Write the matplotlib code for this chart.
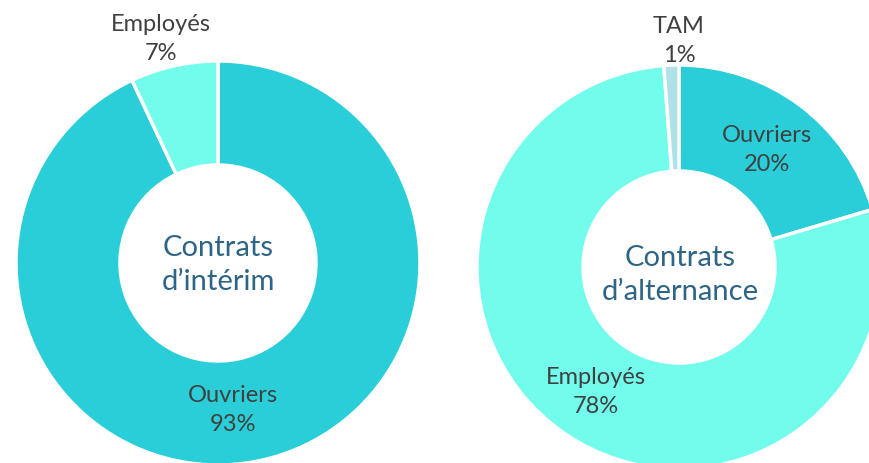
import matplotlib.pyplot as plt

# data
left_labels = ['Ouvriers', 'Employés']
left_values = [93, 7]
left_colors = ['#29CED8', '#71FCEC']

right_labels = ['Ouvriers', 'Employés', 'TAM']
right_values = [20.4, 78.4, 1.2]
right_pct = ['20%', '78%', '1%']
right_colors = ['#29CED8', '#71FCEC', '#B0E0E8']

plt.rcParams['font.family'] = ['Lato', 'DejaVu Sans']
lab_color = '#404040'
mid_color = '#2E6485'

fig = plt.figure(figsize=(8.69, 4.64), dpi=100)
ax = fig.add_axes([0, 0, 1, 1])
H = 464

# left donut
ax.pie(left_values, colors=left_colors, startangle=90, counterclock=False,
       center=(218, H - 264), radius=202,
       wedgeprops=dict(width=104, edgecolor='white', linewidth=2.5))
# right donut
ax.pie(right_values, colors=right_colors, startangle=90, counterclock=False,
       center=(679, H - 268), radius=202,
       wedgeprops=dict(width=106, edgecolor='white', linewidth=2.5))

ax.set_xlim(0, 869)
ax.set_ylim(0, H)
ax.set_aspect('equal')
ax.axis('off')

fs = 17
ls = 1.45


def label(x, y, name, pct):
    ax.text(x, H - y, name + '\n' + pct, ha='center', va='center',
            fontsize=fs, color=lab_color, linespacing=ls)


label(161, 39, left_labels[1], '7%')
label(233, 410, left_labels[0], '93%')
ax.text(218, H - 265, 'Contrats\nd\u2019intérim', ha='center', va='center',
        fontsize=21, color=mid_color, linespacing=1.4)

label(679, 41, right_labels[2], right_pct[2])
label(767, 150, right_labels[0], right_pct[0])
label(596, 392, right_labels[1], right_pct[1])
ax.text(680, H - 275, 'Contrats\nd\u2019alternance', ha='center', va='center',
        fontsize=21, color=mid_color, linespacing=1.4)

fig.savefig('out.png', dpi=100)
